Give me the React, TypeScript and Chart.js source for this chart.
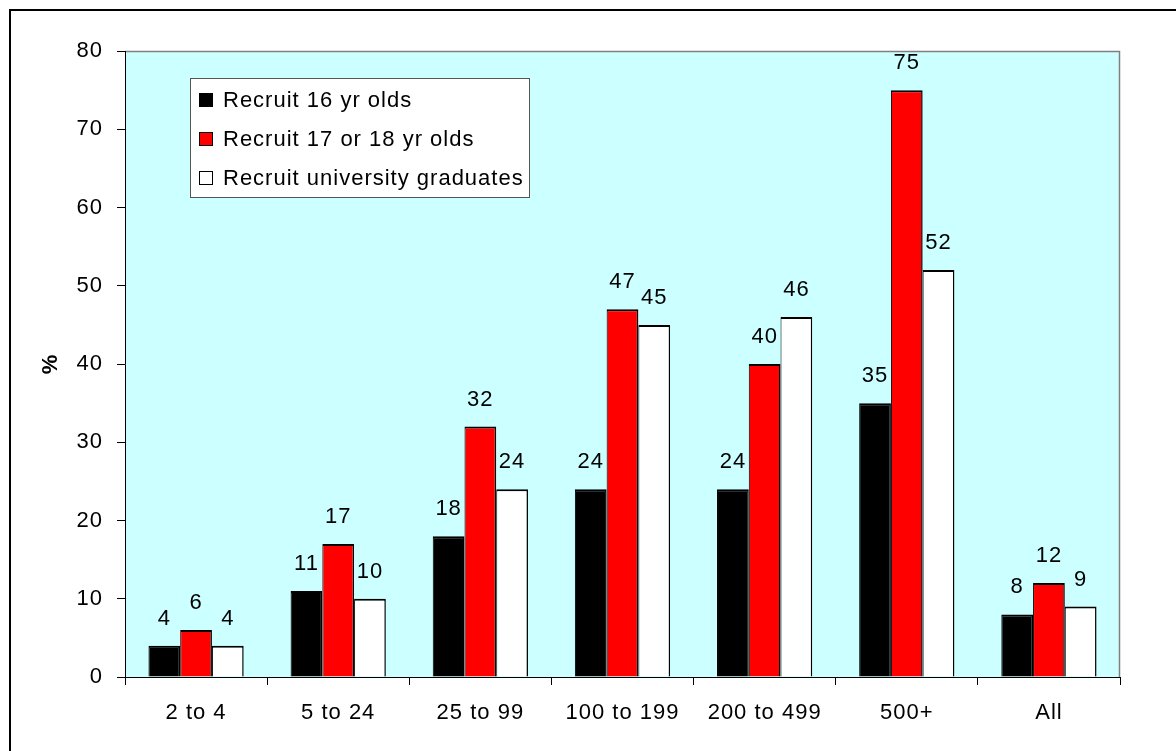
import React, { useEffect, useRef } from "react";
import { Chart, registerables } from "chart.js";

Chart.register(...registerables);

const categories = ["2 to 4", "5 to 24", "25 to 99", "100 to 199", "200 to 499", "500+", "All"];
const seriesNames = ["Recruit 16 yr olds", "Recruit 17 or 18 yr olds", "Recruit university graduates"];
const recruit16 = [4, 11, 18, 24, 24, 35, 8];
const recruit1718 = [6, 17, 32, 47, 40, 75, 12];
const recruitGrads = [4, 10, 24, 45, 46, 52, 9];
const yTicks = [0, 10, 20, 30, 40, 50, 60, 70, 80];

const FAMILY = "'Liberation Sans', Arial, Helvetica, sans-serif";
const FONT_SIZE = 22;
const BAR_BORDER = { top: 2, left: 1, right: 1.5, bottom: 0 };

export default function App() {
  const ref = useRef<HTMLCanvasElement>(null);

  useEffect(() => {
    const canvas = ref.current;
    if (!canvas) return;

    const backgroundPlugin = {
      id: "plotBackground",
      beforeDraw(chart: any) {
        const { ctx, chartArea: a } = chart;
        try {
          (ctx as any).letterSpacing = "1px";
        } catch (e) {
          /* ignore */
        }
        ctx.save();
        ctx.fillStyle = "#ffffff";
        ctx.fillRect(0, 0, chart.width, chart.height);
        ctx.strokeStyle = "#000000";
        ctx.lineWidth = 2;
        ctx.strokeRect(10, 10, chart.width + 40, chart.height + 40);
        ctx.fillStyle = "#CCFFFF";
        ctx.fillRect(a.left, a.top, a.right - a.left, a.bottom - a.top);
        ctx.strokeStyle = "#808080";
        ctx.lineWidth = 1.5;
        ctx.beginPath();
        ctx.moveTo(a.left, a.top + 0.5);
        ctx.lineTo(a.right - 0.5, a.top + 0.5);
        ctx.lineTo(a.right - 0.5, a.bottom);
        ctx.stroke();
        ctx.restore();
      },
    };

    const labelPlugin = {
      id: "valueLabels",
      afterDatasetsDraw(chart: any) {
        const { ctx } = chart;
        ctx.save();
        ctx.fillStyle = "#000000";
        ctx.font = `${FONT_SIZE}px ${FAMILY}`;
        ctx.textAlign = "center";
        ctx.textBaseline = "middle";
        chart.data.datasets.forEach((ds: any, i: number) => {
          const meta = chart.getDatasetMeta(i);
          meta.data.forEach((bar: any, j: number) => {
            ctx.fillText(String(ds.data[j]), bar.x, bar.y - 27);
          });
        });
        ctx.restore();
      },
    };

    const legendPlugin = {
      id: "insideLegend",
      afterDraw(chart: any) {
        const { ctx, chartArea: a } = chart;
        const bx = a.left + 65;
        const by = a.top + 27;
        const bw = 339;
        const bh = 119;
        ctx.save();
        ctx.fillStyle = "#ffffff";
        ctx.fillRect(bx, by, bw, bh);
        ctx.strokeStyle = "#555555";
        ctx.lineWidth = 1;
        ctx.strokeRect(bx + 0.5, by + 0.5, bw, bh);
        ctx.font = `${FONT_SIZE}px ${FAMILY}`;
        ctx.textBaseline = "middle";
        ctx.textAlign = "left";
        chart.data.datasets.forEach((ds: any, i: number) => {
          const cy = by + 22 + i * 39;
          ctx.fillStyle = ds.backgroundColor;
          ctx.fillRect(bx + 9, cy - 7, 14, 14);
          ctx.strokeStyle = "#000000";
          ctx.lineWidth = 1;
          ctx.strokeRect(bx + 9.5, cy - 6.5, 13, 13);
          ctx.fillStyle = "#000000";
          ctx.fillText(ds.label, bx + 33, cy + 1);
        });
        ctx.restore();
      },
    };

    const chart = new Chart(canvas, {
      type: "bar",
      data: {
        labels: categories,
        datasets: [
          { label: seriesNames[0], data: recruit16, backgroundColor: "#000000", borderColor: "#000000", borderWidth: BAR_BORDER },
          { label: seriesNames[1], data: recruit1718, backgroundColor: "#FF0000", borderColor: "#000000", borderWidth: BAR_BORDER },
          { label: seriesNames[2], data: recruitGrads, backgroundColor: "#FFFFFF", borderColor: "#000000", borderWidth: BAR_BORDER },
        ],
      },
      options: {
        responsive: false,
        animation: false,
        layout: { padding: { left: 0, top: 51, right: 56, bottom: 0 } },
        datasets: { bar: { categoryPercentage: 0.67, barPercentage: 1.0 } },
        plugins: { legend: { display: false }, tooltip: { enabled: false } },
        scales: {
          x: {
            grid: { drawOnChartArea: false, tickLength: 8, color: "#000000", offset: true },
            border: { color: "#000000", width: 1 },
            ticks: {
              color: "#000000",
              font: { family: FAMILY, size: FONT_SIZE },
              padding: 15,
              maxRotation: 0,
              autoSkip: false,
            },
            afterFit: (s: any) => {
              s.height = 74;
            },
          },
          y: {
            min: 0,
            max: 80,
            afterBuildTicks: (s: any) => {
              s.ticks = yTicks.map((v) => ({ value: v }));
            },
            ticks: { color: "#000000", font: { family: FAMILY, size: FONT_SIZE }, padding: 14 },
            grid: { drawOnChartArea: false, tickLength: 8, color: "#000000" },
            border: { color: "#000000", width: 1 },
            title: {
              display: true,
              text: "%",
              color: "#000000",
              font: { family: FAMILY, size: FONT_SIZE, weight: "bold" },
              padding: { top: 38, bottom: 0 },
            },
            afterFit: (s: any) => {
              s.width = 125;
            },
          },
        },
      } as any,
      plugins: [backgroundPlugin, labelPlugin, legendPlugin],
    });

    return () => chart.destroy();
  }, []);

  return (
    <div style={{ position: "fixed", left: 0, top: 0, width: 1176, height: 751, background: "#fff" }}>
      <canvas ref={ref} width={1176} height={751} style={{ display: "block" }} />
    </div>
  );
}
